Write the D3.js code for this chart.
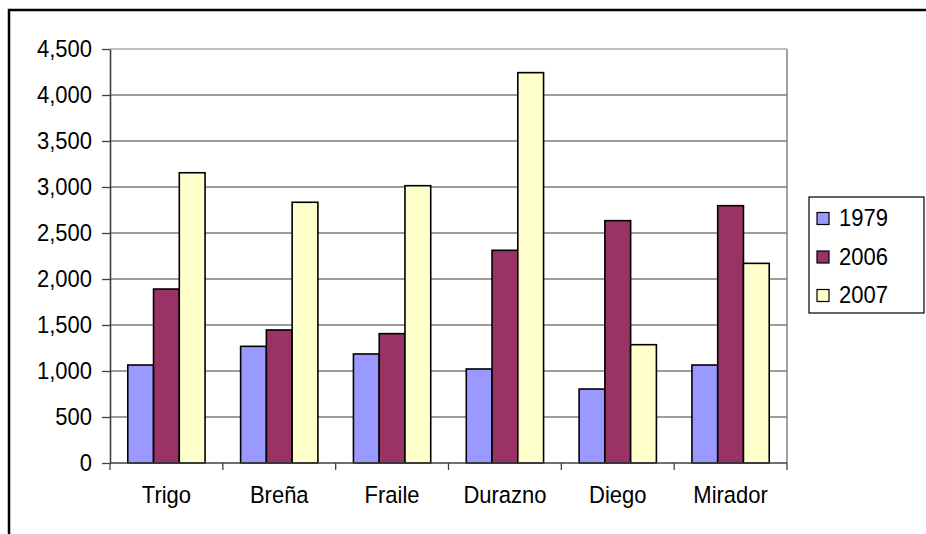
<!DOCTYPE html>
<html>
<head>
<meta charset="utf-8">
<script src="https://cdn.jsdelivr.net/npm/d3@7"></script>
<style>
  html, body { margin: 0; padding: 0; background: #fff; }
  svg { display: block; font-family: Arial, "Liberation Sans", sans-serif; }
</style>
</head>
<body>
<svg id="chart" width="926" height="534"></svg>
<script>
// Categories and yearly series
const categories = ["Trigo", "Breña", "Fraile", "Durazno", "Diego", "Mirador"];
const seriesNames = ["1979", "2006", "2007"];
const values1979 = [1065, 1268, 1185, 1022, 804, 1065];
const values2006 = [1891, 1446, 1406, 2312, 2634, 2797];
const values2007 = [3155, 2834, 3014, 4243, 1286, 2170];
const seriesColors = ["#9999FF", "#993366", "#FFFFCC"];
const yTicks = [0, 500, 1000, 1500, 2000, 2500, 3000, 3500, 4000, 4500];

const seriesValues = [values1979, values2006, values2007];

const svg = d3.select("#chart");
const plot = { left: 110, right: 787, top: 49, bottom: 463 };
const FONT = 22;
const STRETCH = 1.08; // text is drawn slightly taller than wide

// Text helper: places a string anchored at (x, y) with vertical stretch
function label(sel, tx, ty, anchor) {
  return sel.append("text")
    .attr("transform", `translate(${tx},${ty}) scale(1,${STRETCH})`)
    .attr("text-anchor", anchor)
    .attr("font-size", FONT)
    .attr("fill", "#000");
}

// Outer chart frame (runs past the bottom and right edges)
svg.append("rect")
  .attr("x", 9).attr("y", 10)
  .attr("width", 940).attr("height", 540)
  .attr("fill", "#fff")
  .attr("stroke", "#000").attr("stroke-width", 2.5);

const x = d3.scaleBand().domain(categories)
  .range([plot.left, plot.right]).paddingInner(0).paddingOuter(0);
const xInner = d3.scaleBand().domain(seriesNames)
  .range([0, x.bandwidth()]).paddingInner(0).paddingOuter(0.69);
const y = d3.scaleLinear().domain([0, 4500]).range([plot.bottom, plot.top]);

// Horizontal gridlines
svg.append("g")
  .selectAll("line")
  .data(yTicks.filter(t => t > 0))
  .join("line")
  .attr("x1", plot.left).attr("x2", plot.right)
  .attr("y1", d => y(d)).attr("y2", d => y(d))
  .attr("stroke", d => d === 4500 ? "#808080" : "#3a3a3a")
  .attr("stroke-width", 1.2);

// Right edge of plot area
svg.append("line")
  .attr("x1", plot.right).attr("x2", plot.right)
  .attr("y1", plot.top).attr("y2", plot.bottom)
  .attr("stroke", "#808080").attr("stroke-width", 1.5);

// Bars
const groups = svg.append("g")
  .selectAll("g")
  .data(categories)
  .join("g")
  .attr("transform", d => `translate(${x(d)},0)`);

groups.selectAll("rect")
  .data((c, i) => seriesNames.map((s, k) => ({ s, k, v: seriesValues[k][i] })))
  .join("rect")
  .attr("x", d => xInner(d.s))
  .attr("width", xInner.bandwidth())
  .attr("y", d => y(d.v))
  .attr("height", d => y(0) - y(d.v))
  .attr("fill", d => seriesColors[d.k])
  .attr("stroke", "#000")
  .attr("stroke-width", 1.6);

// Y axis
const yAxis = svg.append("g")
  .attr("transform", `translate(${plot.left},0)`)
  .call(d3.axisLeft(y).tickValues(yTicks).tickSize(8).tickSizeOuter(0)
    .tickFormat(() => ""));
yAxis.select(".domain").attr("stroke", "#404040").attr("stroke-width", 1.6);
yAxis.selectAll(".tick line").attr("stroke", "#404040").attr("stroke-width", 1.3);
const fmt = d3.format(",");
yTicks.forEach(t => {
  label(svg, plot.left - 18, y(t) + 7.5, "end").text(fmt(t));
});

// X axis with ticks between categories
const xAxis = svg.append("g").attr("transform", `translate(0,${plot.bottom})`);
xAxis.append("line")
  .attr("x1", plot.left).attr("x2", plot.right)
  .attr("stroke", "#404040").attr("stroke-width", 1.6);
xAxis.selectAll("line.tk")
  .data(categories.map(c => x(c)).concat([plot.right]))
  .join("line").attr("class", "tk")
  .attr("x1", d => d).attr("x2", d => d)
  .attr("y1", 0).attr("y2", 7)
  .attr("stroke", "#404040").attr("stroke-width", 1.3);
categories.forEach(c => {
  label(svg, x(c) + x.bandwidth() / 2, plot.bottom + 40, "middle").text(c);
});

// Legend
const legend = svg.append("g");
legend.append("rect")
  .attr("x", 809).attr("y", 197)
  .attr("width", 115).attr("height", 116)
  .attr("fill", "#fff").attr("stroke", "#000").attr("stroke-width", 1.2);
seriesNames.forEach((s, i) => {
  const cy = 218 + i * 38.5;
  legend.append("rect")
    .attr("x", 817).attr("y", cy - 5.5)
    .attr("width", 12).attr("height", 12)
    .attr("fill", seriesColors[i])
    .attr("stroke", "#000").attr("stroke-width", 1.2);
  label(legend, 839, cy + 8, "start").text(s);
});
</script>
</body>
</html>
